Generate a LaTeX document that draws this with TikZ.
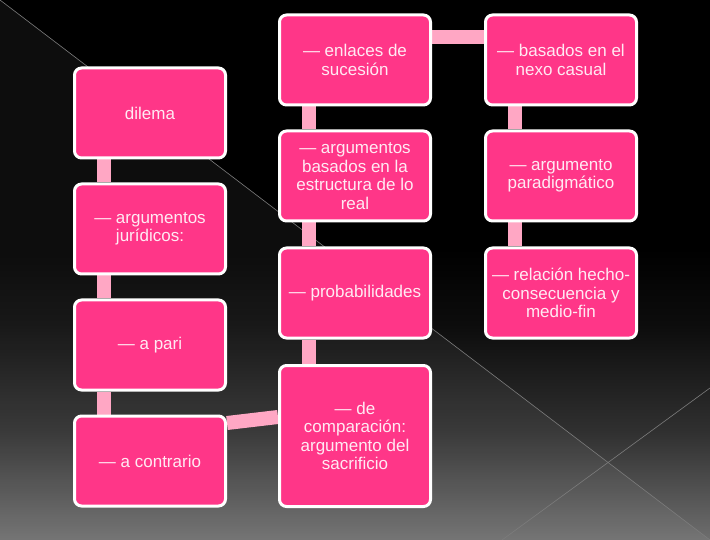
\documentclass[tikz,border=0pt]{standalone}
\usepackage{fontspec}
\setmainfont{Liberation Sans}
\usepackage{xcolor}
\usepackage{tikz}
\usetikzlibrary{positioning,backgrounds}

\definecolor{boxpink}{HTML}{FF3688}
\definecolor{linkpink}{HTML}{FFA7C4}
\definecolor{boxtext}{HTML}{FFEAF3}
\definecolor{bgbot}{HTML}{6E6E6E}
\definecolor{bgmid}{HTML}{303030}
\definecolor{bgdark}{HTML}{0C0C0C}
\definecolor{rulegray}{HTML}{7C7C7C}
\pgfdeclareverticalshading{bgfade}{100bp}{color(0bp)=(bgbot); color(25bp)=(bgbot); color(35bp)=(bgmid); color(45bp)=(bgdark); color(52bp)=(black); color(100bp)=(black)}

\begin{document}
\begin{tikzpicture}[x=1pt, y=-1pt,
  box/.style={draw=white, line width=3pt, fill=boxpink, rounded corners=7pt, minimum width=151pt, minimum height=90pt, align=center, text=boxtext, font=\fontsize{17}{18.5}\selectfont, inner sep=2pt},
  link/.style={draw=linkpink, line width=14pt}
]
  \useasboundingbox (0,0) rectangle (710,540);

  % Columna izquierda
  \node[box] (dilema)    at (150, 113) {dilema};
  \node[box] (juridicos) at (150, 229) {— argumentos\\jurídicos:};
  \node[box] (pari)      at (150, 345) {— a pari};
  \node[box] (contrario) at (150, 461) {— a contrario};

  % Columna central
  \node[box] (enlaces)     at (355, 60) {— enlaces de\\sucesión};
  \node[box] (estructura)  at (355, 176) {— argumentos\\basados en la\\estructura de lo\\real};
  \node[box] (probab)      at (355, 293) {— probabilidades};
  \node[box, minimum height=141pt] (comparacion) at (355, 436) {— de\\comparación:\\argumento del\\sacrificio};

  % Columna derecha
  \node[box] (nexo)      at (561, 60) {— basados en el\\nexo casual};
  \node[box] (paradigma) at (561, 176) {— argumento\\paradigmático};
  \node[box] (relacion)  at (561, 293) {— relación hecho-\\consecuencia y\\medio-fin};

  \begin{scope}[on background layer]
    % Fondo
    \shade[shading=bgfade] (0,0) rectangle (710,540);
    \fill[white, opacity=0.05] (0,0) -- (710,540) -- (0,540) -- cycle;
    \draw[rulegray, line width=0.6pt] (0,0) -- (710,540);
    \draw[rulegray, line width=0.6pt] (502,540) -- (710,388);

    % Conectores
    \draw[link] ([xshift=-46pt]dilema.south) -- ([xshift=-46pt]juridicos.north);
    \draw[link] ([xshift=-46pt]juridicos.south) -- ([xshift=-46pt]pari.north);
    \draw[link] ([xshift=-46pt]pari.south) -- ([xshift=-46pt]contrario.north);
    \draw[link] ([yshift=38pt]contrario.east) -- ([yshift=19pt]comparacion.west);
    \draw[link] ([xshift=-46pt]enlaces.south) -- ([xshift=-46pt]estructura.north);
    \draw[link] ([xshift=-46pt]estructura.south) -- ([xshift=-46pt]probab.north);
    \draw[link] ([xshift=-46pt]probab.south) -- ([xshift=-46pt]comparacion.north);
    \draw[link] ([yshift=23pt]enlaces.east) -- ([yshift=23pt]nexo.west);
    \draw[link] ([xshift=-46pt]nexo.south) -- ([xshift=-46pt]paradigma.north);
    \draw[link] ([xshift=-46pt]paradigma.south) -- ([xshift=-46pt]relacion.north);
  \end{scope}
\end{tikzpicture}
\end{document}
